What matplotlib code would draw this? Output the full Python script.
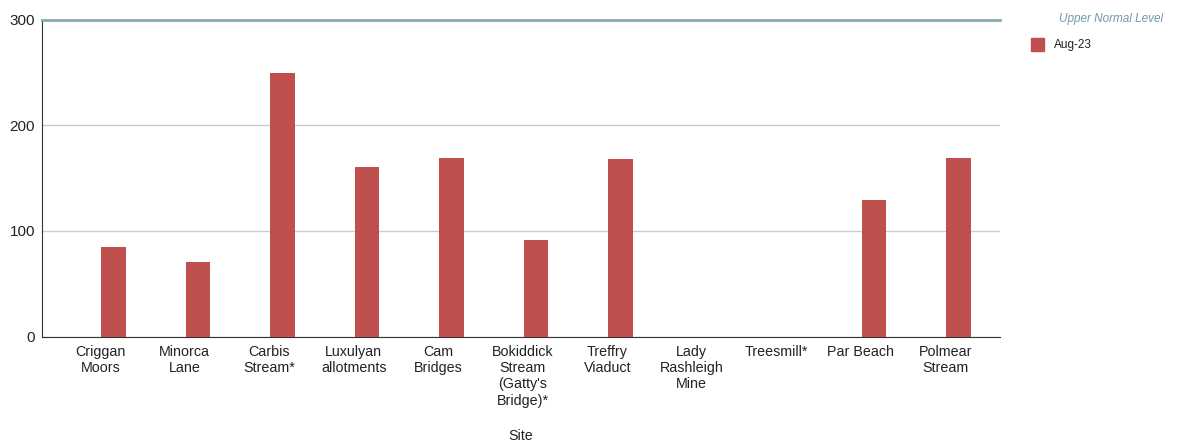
import numpy as np
import matplotlib.pyplot as plt

plt.rcParams['font.family'] = ['Liberation Sans', 'DejaVu Sans']

sites = ['Criggan\nMoors', 'Minorca\nLane', 'Carbis\nStream*', 'Luxulyan\nallotments',
         'Cam\nBridges', "Bokiddick\nStream\n(Gatty's\nBridge)*", 'Treffry\nViaduct',
         'Lady\nRashleigh\nMine', 'Treesmill*', 'Par Beach', 'Polmear\nStream']
aug23 = [85, 71, 249, 161, 169, 91, 168, 0, 0, 129, 169]
upper_normal = 300

fig = plt.figure(figsize=(11.78, 4.43), dpi=100)
ax = fig.add_axes([0.0357, 0.24, 0.8133, 0.7158])

x = np.arange(len(sites))
ax.bar(x + 0.155, aug23, width=0.29, color='#c0504d', zorder=3)

# upper normal level reference line
ax.axhline(upper_normal, color='#86a9b0', lw=2, zorder=4, clip_on=False)

ax.set_ylim(0, 300)
ax.set_xlim(-0.69, len(sites) - 1 + 0.65)
ax.set_yticks([0, 100, 200, 300])
ax.tick_params(axis='y', length=0, pad=5, labelsize=11, labelcolor='#222222')
ax.set_xticks(x)
ax.set_xticklabels(sites, fontsize=10.3, color='#222222', linespacing=1.2)
ax.tick_params(axis='x', length=0, pad=6)
ax.grid(axis='y', color='#cccccc', lw=1, zorder=0)

for s in ['top', 'right']:
    ax.spines[s].set_visible(False)
ax.spines['left'].set_color('#333333')
ax.spines['bottom'].set_color('#333333')

fig.text(521 / 1178, 1 - 436 / 443, 'Site', ha='center', va='center',
         fontsize=10.3, color='#222222')

# legend drawn by hand
fig.text(1163 / 1178, 0.958, 'Upper Normal Level', ha='right', va='center',
         fontsize=8.5, style='italic', color='#6f9ca5')
fig.patches.append(plt.Rectangle((1031 / 1178, 1 - 51 / 443), 13 / 1178, 13 / 443,
                                 transform=fig.transFigure, color='#c0504d'))
fig.text(1054 / 1178, 1 - 45 / 443, 'Aug-23', ha='left', va='center',
         fontsize=8.5, color='#222222')

fig.savefig('out.png', dpi=100)
